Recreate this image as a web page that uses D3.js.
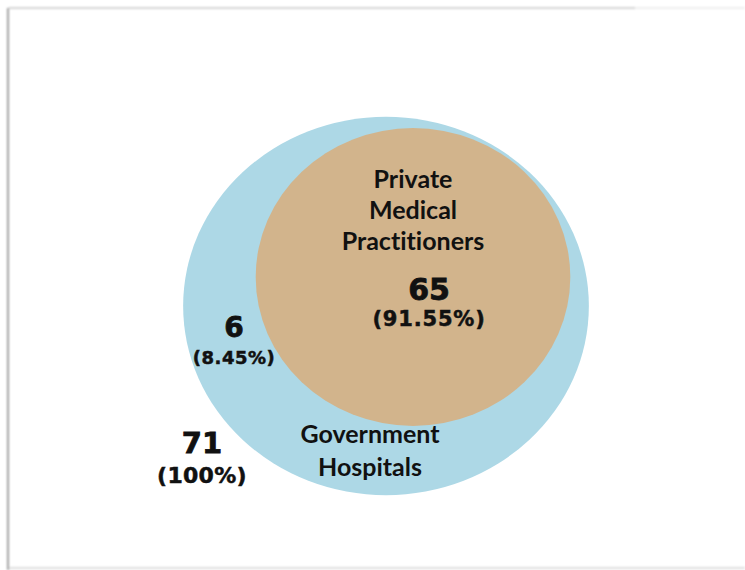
<!DOCTYPE html>
<html>
<head>
<meta charset="utf-8">
<script src="https://cdn.jsdelivr.net/npm/d3@7"></script>
<style>
  body { margin: 0; background: #fff; }
  svg { display: block; }
</style>
</head>
<body>
<svg id="chart" width="745" height="570"></svg>
<script>
// venn data: private practitioners sit entirely inside the government hospitals set
const sets = ["Government Hospitals", "Private Medical Practitioners"];
const setLines = [["Government", "Hospitals"], ["Private", "Medical", "Practitioners"]];
const setValues = [71, 65];
const setPercent = ["100%", "91.55%"];
const onlyValue = [6];
const onlyPercent = ["8.45%"];
const setColors = ["#add8e6", "#d2b48c"];

const svg = d3.select("#chart");

// page frame with soft shadow
const defs = svg.append("defs");
const blur = defs.append("filter").attr("id", "soft")
  .attr("filterUnits", "userSpaceOnUse")
  .attr("x", 0).attr("y", 0).attr("width", 745).attr("height", 570);
blur.append("feGaussianBlur").attr("stdDeviation", 0.9);

const frame = svg.append("g").attr("filter", "url(#soft)");
frame.append("line").attr("x1", 8).attr("y1", 8).attr("x2", 8).attr("y2", 570)
  .attr("stroke", "#a0a0a0").attr("stroke-width", 2);
frame.append("line").attr("x1", 9).attr("y1", 8).attr("x2", 635).attr("y2", 8)
  .attr("stroke", "#d4d4d4").attr("stroke-width", 2);
frame.append("line").attr("x1", 635).attr("y1", 8).attr("x2", 745).attr("y2", 8)
  .attr("stroke", "#eeeeee").attr("stroke-width", 2);
frame.append("line").attr("x1", 9).attr("y1", 568).attr("x2", 745).attr("y2", 568)
  .attr("stroke", "#dedede").attr("stroke-width", 2);

// radius from count
const r = d3.scaleLinear().domain([65, 71]).range([152, 196]);
const stretch = 1.035; // picture is a touch wider than tall

const centers = [[386, 306], [413, 277]];

svg.selectAll("ellipse.set")
  .data(setValues)
  .join("ellipse")
  .attr("class", "set")
  .attr("cx", (d, i) => centers[i][0])
  .attr("cy", (d, i) => centers[i][1])
  .attr("rx", d => r(d) * stretch)
  .attr("ry", d => r(d) * (d === 71 ? 0.965 : 0.98))
  .attr("fill", (d, i) => setColors[i]);

const nameFont = "Lato, 'Open Sans', sans-serif";
const numFont = "'DejaVu Sans', Verdana, sans-serif";

function nameBlock(lines, x, y, step) {
  svg.append("g").selectAll("text")
    .data(lines)
    .join("text")
    .attr("x", x)
    .attr("y", (d, i) => y + i * step)
    .attr("text-anchor", "middle")
    .attr("font-family", nameFont)
    .attr("font-weight", 700)
    .attr("font-size", 25)
    .style("font-variant-ligatures", "none")
    .attr("fill", "#111")
    .text(d => d);
}

function countBlock(v, p, x, y, big, small, gap, sp) {
  svg.append("text")
    .attr("x", x).attr("y", y)
    .attr("text-anchor", "middle")
    .attr("font-family", numFont).attr("font-weight", 700)
    .attr("font-size", big).attr("fill", "#111")
    .attr("stroke", "#111").attr("stroke-width", 0.8)
    .text(v);
  svg.append("text")
    .attr("x", x).attr("y", y + gap)
    .attr("text-anchor", "middle")
    .attr("font-family", numFont).attr("font-weight", 700)
    .attr("font-size", small).attr("letter-spacing", sp).attr("fill", "#111")
    .attr("stroke", "#111").attr("stroke-width", 0.5)
    .text("(" + p + ")");
}

nameBlock(setLines[1], 413, 188, 31);
nameBlock(setLines[0], 370, 443, 33);

countBlock(setValues[1], setPercent[1], 429, 300, 30, 21, 26, 0.8);
countBlock(onlyValue[0], onlyPercent[0], 234, 337, 28, 18, 27, 0.5);
countBlock(setValues[0], setPercent[0], 202, 453, 29, 22, 30, 0.3);
</script>
</body>
</html>
